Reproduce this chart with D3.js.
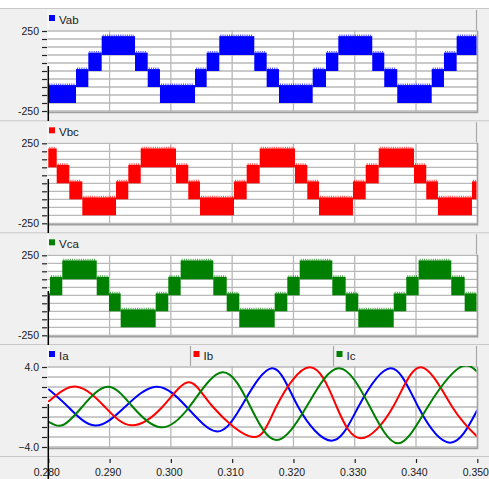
<!DOCTYPE html>
<html><head><meta charset="utf-8">
<script src="https://cdn.jsdelivr.net/npm/d3@7"></script>
<style>
body{margin:0;background:#fff;}
svg{display:block;font-family:"Liberation Sans",Arial,sans-serif;}
</style>
</head><body>
<svg id="chart" width="489" height="479"></svg>
<script>
// Time axis
const timeTicks = [0.280, 0.290, 0.300, 0.310, 0.320, 0.330, 0.340, 0.350];
const voltGrid = [250, 200, 150, 100, 50, 0, -50, -100, -150, -200, -250];
const voltLabels = [250, -250];
const currGrid = [4, 3, 2, 1, 0, -1, -2, -3, -4];
const currLabels = [4, -4];

// PWM bands of the multilevel line voltages (lower level, upper edge of the switching band)
const bandLow = [-200, -100, 0, 100];
const bandHigh = [-88, 12, 115, 218];

// Start time of each band segment and the band it switches in
const vabTimes = [0.2800, 0.28452, 0.28653, 0.28871, 0.29415, 0.29622, 0.29822, 0.30394, 0.30584, 0.30790, 0.31361,
  0.31563, 0.31764, 0.32314, 0.32531, 0.32732, 0.33286, 0.33482, 0.33694, 0.34256, 0.34456, 0.34663];
const vabBands = [0, 1, 2, 3, 2, 1, 0, 1, 2, 3, 2, 1, 0, 1, 2, 3, 2, 1, 0, 1, 2, 3];

const vbcTimes = [0.2800, 0.28137, 0.28343, 0.28555, 0.29105, 0.29305, 0.29508, 0.30084, 0.30284, 0.30475, 0.31030,
  0.31237, 0.31449, 0.32025, 0.32226, 0.32417, 0.32971, 0.33179, 0.33391, 0.33967, 0.34167, 0.34358, 0.34913];
const vbcBands = [3, 2, 1, 0, 1, 2, 3, 2, 1, 0, 1, 2, 3, 2, 1, 0, 1, 2, 3, 2, 1, 0, 1];

const vcaTimes = [0.2800, 0.28028, 0.28228, 0.28790, 0.28990, 0.29181, 0.29752, 0.29958, 0.30160, 0.30692, 0.30911,
  0.31116, 0.31694, 0.31900, 0.32102, 0.32634, 0.32852, 0.33058, 0.33636, 0.33841, 0.34043, 0.34575, 0.34794];
const vcaBands = [1, 2, 3, 2, 1, 0, 1, 2, 3, 2, 1, 0, 1, 2, 3, 2, 1, 0, 1, 2, 3, 2, 1];

// Phase currents: sampled points (time, amperes)
const iaT = [0.2800, 0.28326, 0.28762, 0.29250, 0.29766, 0.30258, 0.30736, 0.31144, 0.31649, 0.32079, 0.32624, 0.33058, 0.33586, 0.34037, 0.34554, 0.35];
const iaV = [1.8, 0.0, -1.85, 0.0, 2.03, 0.0, -2.43, 0.0, 3.87, 0.0, -3.37, 0.0, 3.87, 0.0, -3.57, -0.3];
const ibT = [0.2800, 0.28463, 0.28925, 0.29360, 0.29861, 0.30284, 0.30688, 0.31340, 0.31717, 0.32269, 0.32707, 0.33100, 0.33624, 0.34082, 0.34592, 0.35];
const ibV = [0.53, 2.03, 0.0, -1.83, 0.0, 2.47, 0.0, -3.0, 0.0, 3.97, 0.0, -3.13, 0.0, 3.97, 0.0, -2.97];
const icT = [0.2800, 0.28240, 0.28550, 0.28970, 0.29380, 0.29830, 0.30300, 0.30840, 0.31300, 0.31720, 0.32210, 0.32740, 0.33250, 0.33710, 0.34190, 0.34700, 0.35];
const icV = [-1.47, -1.8, 0.0, 2.03, 0.0, -2.03, 0.0, 3.47, 0.0, -3.3, 0.0, 3.87, 0.0, -3.63, 0.0, 3.9, 3.53];

const voltSeries = [
  {name: "Vab", color: "#0000ff", times: vabTimes, bands: vabBands},
  {name: "Vbc", color: "#ff0000", times: vbcTimes, bands: vbcBands},
  {name: "Vca", color: "#008000", times: vcaTimes, bands: vcaBands}
];
const currSeries = [
  {name: "Ia", color: "#0000ff", t: iaT, v: iaV},
  {name: "Ib", color: "#ff0000", t: ibT, v: ibV},
  {name: "Ic", color: "#008000", t: icT, v: icV}
];

const W = 489, H = 479;
const plotL = 47.5, plotR = 477.5;
const panelTops = [31, 143.3, 255.3, 367];   // pixel row of the top tick value in each panel
const panelSpan = 80;
const tickFont = 10.5, legendFont = 11.5;

const svg = d3.select("#chart");
const x = d3.scaleLinear().domain([0.28, 0.35]).range([48.3, 477.3]);

// page background
svg.append("rect").attr("width", W).attr("height", H).attr("fill", "#f0f0f0");
svg.append("rect").attr("width", W).attr("height", 8).attr("fill", "#ffffff");

const defs = svg.append("defs");

function panelFrame(i, yScale, grid, labels, fmt) {
  const top = panelTops[i];
  const g = svg.append("g");
  const sep = top - 23;
  // separator above the panel
  g.append("line").attr("x1", 0).attr("x2", W).attr("y1", sep + 0.5).attr("y2", sep + 0.5)
    .attr("stroke", "#c8c8c8").attr("stroke-width", 1);
  // legend header
  g.append("rect").attr("x", plotL).attr("y", sep + 2).attr("width", plotR - plotL - 1).attr("height", top - sep - 3)
    .attr("fill", "#f0f0f0");
  g.append("line").attr("x1", plotL + 0.5).attr("x2", plotL + 0.5).attr("y1", sep + 2).attr("y2", top - 1)
    .attr("stroke", "#ffffff");
  g.append("line").attr("x1", plotR - 1).attr("x2", plotR - 1).attr("y1", sep + 2).attr("y2", top - 1)
    .attr("stroke", "#a8a8a8").attr("stroke-width", 1.2);
  // plot area
  g.append("rect").attr("x", plotL).attr("y", top - 0.5).attr("width", plotR - plotL).attr("height", panelSpan + 1.5)
    .attr("fill", "#ffffff");
  // grid
  g.selectAll(".hg").data(grid).join("line")
    .attr("x1", plotL).attr("x2", plotR).attr("y1", d => yScale(d)).attr("y2", d => yScale(d))
    .attr("stroke", "#b9b9b9").attr("stroke-width", 1.3);
  g.selectAll(".vg").data(timeTicks.slice(1, -1)).join("line")
    .attr("x1", d => x(d)).attr("x2", d => x(d)).attr("y1", top - 0.5).attr("y2", top + panelSpan + 1)
    .attr("stroke", "#b9b9b9").attr("stroke-width", 1.3);
  // plot border (shadow on right / bottom)
  g.append("line").attr("x1", plotL).attr("x2", plotR + 0.5).attr("y1", top + panelSpan + 1.5).attr("y2", top + panelSpan + 1.5)
    .attr("stroke", "#a0a0a0").attr("stroke-width", 1.6);
  g.append("line").attr("x1", plotR).attr("x2", plotR).attr("y1", top - 0.5).attr("y2", top + panelSpan + 2)
    .attr("stroke", "#a0a0a0").attr("stroke-width", 1.6);
  // y axis ticks and labels
  const yAxis = d3.axisLeft(yScale).tickValues(grid).tickSize(5).tickPadding(3)
    .tickFormat(d => labels.includes(d) ? fmt(d) : "");
  const ax = g.append("g").attr("transform", `translate(${plotL - 0.5},0)`).call(yAxis);
  ax.select(".domain").remove();
  ax.selectAll(".tick line").attr("stroke", "#222").attr("stroke-width", 1.2);
  ax.selectAll(".tick text").attr("fill", "#1a1a1a").attr("font-size", tickFont);
  // clip for the data
  defs.append("clipPath").attr("id", "clip" + i).append("rect")
    .attr("x", plotL).attr("y", top - 1).attr("width", plotR - plotL - 1).attr("height", panelSpan + 2);
  return g;
}

function legendItem(g, x0, y0, name, color) {
  g.append("rect").attr("x", x0).attr("y", y0).attr("width", 6).attr("height", 6).attr("fill", color);
  g.append("text").attr("x", x0 + 10).attr("y", y0 + 8.5).attr("font-size", legendFont).attr("fill", "#1a1a1a").text(name);
}

// Voltage panels
voltSeries.forEach((s, i) => {
  const top = panelTops[i];
  const y = d3.scaleLinear().domain([250, -250]).range([top, top + panelSpan]);
  const g = panelFrame(i, y, voltGrid, voltLabels, d => String(d));
  legendItem(g, 49, top - 16, s.name, s.color);
  const segs = s.times.map((t, k) => ({
    t0: t, t1: k + 1 < s.times.length ? s.times[k + 1] : 0.35,
    lo: bandLow[s.bands[k]], hi: bandHigh[s.bands[k]]
  }));
  const dg = g.append("g").attr("clip-path", `url(#clip${i})`);
  dg.selectAll("rect.band").data(segs).join("rect")
    .attr("x", d => x(d.t0)).attr("width", d => Math.max(0.8, x(d.t1) - x(d.t0)))
    .attr("y", d => y(d.hi)).attr("height", d => y(d.lo) - y(d.hi))
    .attr("fill", s.color);
  // fine switching spikes on the upper edge of each band
  dg.selectAll("line.spk").data(segs).join("line")
    .attr("x1", d => x(d.t0) + 1).attr("x2", d => x(d.t1) - 1)
    .attr("y1", d => y(d.hi) - 0.8).attr("y2", d => y(d.hi) - 0.8)
    .attr("stroke", s.color).attr("stroke-width", 1.6).attr("stroke-dasharray", "1 1.2").attr("opacity", 0.7);
});

// Current panel
{
  const i = 3, top = panelTops[i];
  const y = d3.scaleLinear().domain([4, -4]).range([top, top + panelSpan]);
  const g = panelFrame(i, y, currGrid, currLabels, d3.format(".1f"));
  // header split into three legend cells
  const cellW = (plotR - plotL - 1) / 3;
  [1, 2].forEach(k => {
    g.append("line").attr("x1", plotL + cellW * k).attr("x2", plotL + cellW * k)
      .attr("y1", top - 21).attr("y2", top - 1).attr("stroke", "#a8a8a8").attr("stroke-width", 1.2);
  });
  currSeries.forEach((s, k) => legendItem(g, 49 + cellW * k + (k ? 1.5 : 0), top - 16, s.name, s.color));
  const line = d3.line().x(d => x(d[0])).y(d => y(d[1])).curve(d3.curveNatural);
  const dg = g.append("g").attr("clip-path", `url(#clip${i})`);
  currSeries.forEach(s => {
    dg.append("path").attr("d", line(s.t.map((t, k) => [t, s.v[k]])))
      .attr("fill", "none").attr("stroke", s.color).attr("stroke-width", 2);
  });
}

// bottom time axis
const axisY = 456;
svg.append("line").attr("x1", 0).attr("x2", W).attr("y1", axisY + 0.5).attr("y2", axisY + 0.5)
  .attr("stroke", "#c8c8c8");
const xAxis = d3.axisBottom(x).tickValues(timeTicks).tickSize(4).tickPadding(6).tickFormat(d3.format(".3f"));
const xa = svg.append("g").attr("transform", `translate(0,${axisY + 3})`).call(xAxis);
xa.select(".domain").remove();
xa.selectAll(".tick line").attr("stroke", "#222").attr("stroke-width", 1.2);
xa.selectAll(".tick text").attr("fill", "#1a1a1a").attr("font-size", tickFont).attr("dx", -2);

// cursor line at the start time
const cursorSegs = [[66, 121], [179, 233], [291, 345], [404, 479]];
svg.selectAll("line.cursor").data(cursorSegs).join("line")
  .attr("x1", x(0.28)).attr("x2", x(0.28)).attr("y1", d => d[0]).attr("y2", d => d[1])
  .attr("stroke", "#000").attr("stroke-width", 1.5);
</script>
</body></html>
